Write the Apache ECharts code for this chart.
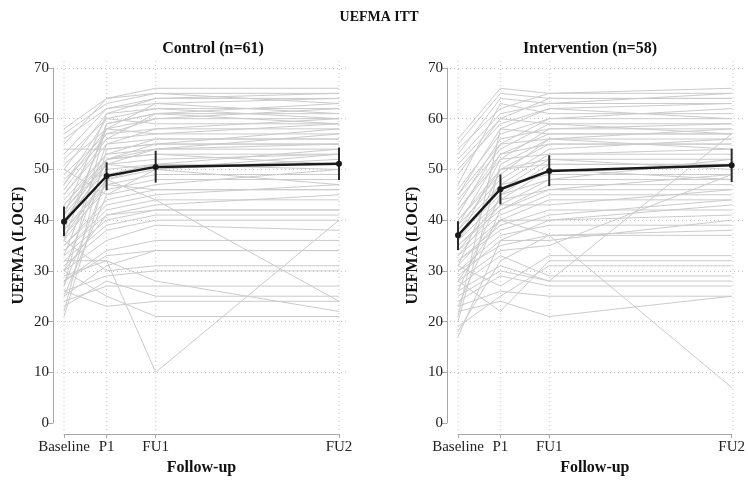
<!DOCTYPE html>
<html><head><meta charset="utf-8">
<script src="https://cdn.jsdelivr.net/npm/echarts@6/dist/echarts.min.js"></script>
<style>html,body{margin:0;padding:0;background:#fff}#c{width:748px;height:483px}</style>
</head><body><div id="c"></div>
<script>
// ---------- DATA ----------
const mainTitle = 'UEFMA ITT';
const panelTitles = ['Control (n=61)', 'Intervention (n=58)'];
const timeLabels = ['Baseline', 'P1', 'FU1', 'FU2'];
const timePositions = [0, 0.93, 2, 6];
const yTicks = [0, 10, 20, 30, 40, 50, 60, 70];

// individual trajectories [Baseline, P1, FU1, FU2]
const controlSubjects = [
  [58,64,66,66],[57,63,65,65],[55,64,65,63],[41,61,64,65],[53,62,63,64],
  [52,60,62,62],[51,58,63,61],[36,59,61,63],[49,57,60,60],[48,56,61,59],
  [47,58,60,62],[27,59,61,61],[46,57,58,60],[45,55,58,58],[45,56,57,59],
  [44,53,56,56],[22,54,55,58],[43,52,55,55],[43,53,54,57],[42,51,54,54],
  [42,52,53,51],[54,54,55,55],[41,51,52,53],[40,52,53,53],[40,50,51,54],
  [21,49,51,51],[39,51,50,47],[38,48,50,52],[38,47,49,49],[37,48,44,24],
  [37,46,48,48],[50,45,47,50],[36,47,46,46],[35,44,46,46],[35,43,45,47],
  [34,42,44,44],[34,41,43,45],[33,40,42,42],[32,39,41,41],[32,32,10,40],
  [31,38,40,40],[30,36,39,38],[30,41,42,42],[29,32,28,22],[28,34,36,36],
  [28,33,34,34],[36,30,31,31],[26,29,30,30],[25,31,34,34],[24,27,27,27],
  [23,28,25,25],[30,25,21,21],[26,23,24,24],[56,62,64,64],[50,61,62,60],
  [47,60,59,59],[38,58,57,57],[33,55,56,56],[30,52,54,55],[27,48,51,50],
  [25,45,50,53]
];
const interventionSubjects = [
  [56,66,65,66],[54,62,65,65],[53,64,63,63],[51,60,64,64],[50,59,62,60],
  [21,58,62,63],[47,63,61,61],[46,57,60,62],[45,55,60,60],[44,54,59,59],
  [43,56,58,58],[42,52,58,59],[42,53,57,57],[20,51,56,58],[40,50,55,55],
  [40,49,56,54],[39,48,54,56],[38,47,53,53],[38,50,52,52],[37,46,52,50],
  [37,45,51,51],[36,44,50,48],[36,47,49,49],[35,43,48,52],[35,42,47,47],
  [34,44,46,46],[34,41,45,45],[33,40,44,44],[33,43,43,46],[32,39,42,42],
  [32,38,41,44],[31,40,40,43],[30,37,39,39],[30,35,37,37],[29,36,36,40],
  [28,40,37,7],[28,34,35,49],[27,33,29,29],[26,31,28,57],[25,30,28,28],
  [24,29,27,27],[23,26,25,25],[22,24,21,25],[31,27,33,33],[28,22,32,32],
  [19,25,31,31],[17,36,40,41],[18,32,37,38],[55,65,64,64],[52,61,63,65],
  [49,60,59,57],[45,58,57,57],[41,55,56,56],[39,53,55,55],[36,52,53,54],
  [31,50,51,51],[26,45,48,48],[23,42,46,49]
];

const controlMean = [39.7, 48.7, 50.5, 51.1];
const controlLow  = [36.8, 45.9, 47.4, 47.9];
const controlHigh = [42.7, 51.4, 53.7, 54.3];
const interventionMean = [37.0, 46.1, 49.7, 50.8];
const interventionLow  = [34.1, 43.1, 46.7, 47.5];
const interventionHigh = [39.8, 49.0, 52.8, 54.1];

// ---------- LAYOUT ----------
const FONT = "'Liberation Serif', 'Times New Roman', serif";
const layout = [
  {axisX: 53, dataLeft: 64, dataRight: 339, titleX: 208},
  {axisX: 446, dataLeft: 458, dataRight: 733, titleX: 585}
];
const panels = [
  {subjects: controlSubjects, mean: controlMean, low: controlLow, high: controlHigh},
  {subjects: interventionSubjects, mean: interventionMean, low: interventionLow, high: interventionHigh}
];
const TOP = 68, H = 355;

const grid = [], xAxis = [], yAxis = [], series = [], titles = [];
titles.push({text: mainTitle, left: 374, top: 5, textAlign: 'center',
  textStyle: {fontFamily: FONT, fontWeight: 'bold', fontSize: 14, color: '#111'}});

layout.forEach((L, p) => {
  const P = panels[p];
  const gA = grid.length;
  grid.push({left: L.dataLeft, width: L.dataRight - L.dataLeft, top: TOP, height: H});
  grid.push({left: L.axisX + 4, width: L.dataRight + 10 - (L.axisX + 4), top: TOP, height: H});
  grid.push({left: L.dataLeft, width: L.dataRight - L.dataLeft, top: 61, height: 369});
  const gB = gA + 1, gC = gA + 2;

  titles.push({text: panelTitles[p], left: L.titleX, top: 36, textAlign: 'center',
    textStyle: {fontFamily: FONT, fontWeight: 'bold', fontSize: 16, color: '#111'}});

  // data axes
  xAxis.push({gridIndex: gA, type: 'value', min: 0, max: 6, offset: 11,
    axisLine: {show: true, onZero: false, lineStyle: {color: '#a8a8a8', width: 1}},
    axisTick: {show: true, length: 4, customValues: timePositions, lineStyle: {color: '#a8a8a8'}},
    axisLabel: {customValues: timePositions, margin: 6, fontFamily: FONT, fontSize: 15, color: '#222',
      formatter: v => timeLabels[timePositions.indexOf(v)] || ''},
    splitLine: {show: false},
    name: 'Follow-up', nameLocation: 'middle', nameGap: 19,
    nameTextStyle: {fontFamily: FONT, fontWeight: 'bold', fontSize: 16, color: '#111'}});
  yAxis.push({gridIndex: gA, type: 'value', min: 0, max: 70, interval: 10, offset: 11,
    axisLine: {show: true, onZero: false, lineStyle: {color: '#a8a8a8', width: 1}},
    axisTick: {show: true, length: 5, lineStyle: {color: '#a8a8a8'}},
    axisLabel: {margin: 4, fontFamily: FONT, fontSize: 15, color: '#222'},
    splitLine: {show: false},
    name: 'UEFMA (LOCF)', nameLocation: 'middle', nameGap: 26,
    nameTextStyle: {fontFamily: FONT, fontWeight: 'bold', fontSize: 16, color: '#111'}});
  // horizontal grid lines
  xAxis.push({gridIndex: gB, type: 'value', min: 0, max: 1, show: false});
  yAxis.push({gridIndex: gB, type: 'value', min: 0, max: 70, interval: 10,
    axisLine: {show: false}, axisTick: {show: false}, axisLabel: {show: false},
    splitLine: {show: true, showMinLine: false, lineStyle: {color: '#c8c8c8', type: [1, 3], width: 1}}});
  // vertical grid lines
  xAxis.push({gridIndex: gC, type: 'value', min: 0, max: 6, show: false});
  yAxis.push({gridIndex: gC, type: 'value', min: 0, max: 1, show: false});

  timePositions.forEach(t => {
    series.push({type: 'line', xAxisIndex: gC, yAxisIndex: gC, silent: true, symbol: 'none', z: 0,
      lineStyle: {color: '#c8c8c8', type: [1, 3], width: 1}, data: [[t, 0], [t, 1]]});
  });

  P.subjects.forEach(s => {
    series.push({type: 'line', xAxisIndex: gA, yAxisIndex: gA, silent: true, symbol: 'none', z: 1,
      lineStyle: {color: '#cbcbcb', width: 1},
      data: s.map((v, i) => [timePositions[i], v])});
  });

  timePositions.forEach((t, i) => {
    series.push({type: 'line', xAxisIndex: gA, yAxisIndex: gA, silent: true, symbol: 'none', z: 5,
      lineStyle: {color: '#2a2a2a', width: 2}, data: [[t, P.low[i]], [t, P.high[i]]]});
  });
  series.push({type: 'line', xAxisIndex: gA, yAxisIndex: gA, silent: true, z: 6,
    symbol: 'circle', symbolSize: 6, itemStyle: {color: '#1a1a1a'},
    lineStyle: {color: '#1a1a1a', width: 2.5},
    data: P.mean.map((v, i) => [timePositions[i], v])});
});

const chart = echarts.init(document.getElementById('c'), null, {renderer: 'canvas'});
chart.setOption({animation: false, backgroundColor: '#fff', title: titles, grid, xAxis, yAxis, series});
</script></body></html>
